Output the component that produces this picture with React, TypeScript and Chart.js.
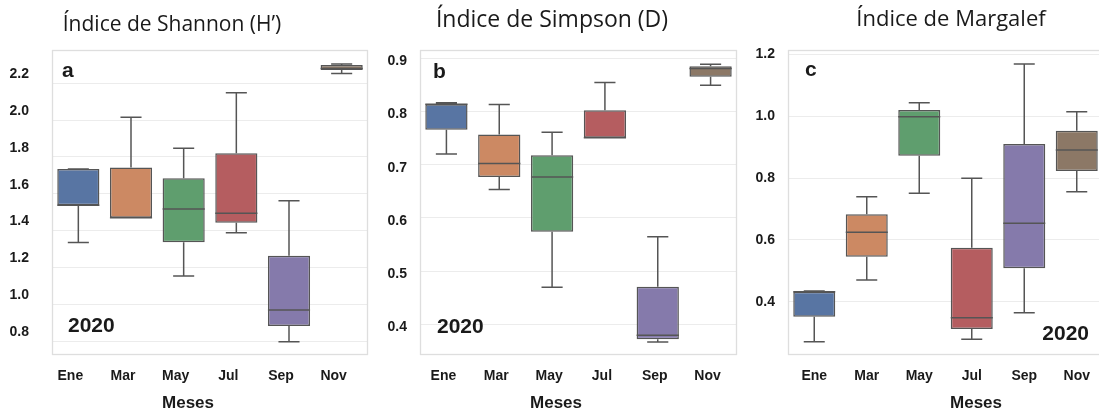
import React, { useEffect, useRef } from "react";
import { Chart, registerables } from "chart.js";

Chart.register(...registerables);

// Sampling months (x categories)
const months = ["Ene", "Mar", "May", "Jul", "Sep", "Nov"];
const boxColors = ["#5875a3", "#cc8963", "#5f9e6e", "#b55d60", "#857aab", "#8c7866"];

// Índice de Shannon (H')
const shannonMin = [1.335, 1.47, 1.153, 1.388, 0.796, 2.254];
const shannonQ1 = [1.537, 1.47, 1.336, 1.443, 0.881, 2.272];
const shannonMedian = [1.537, 1.47, 1.517, 1.494, 0.968, 2.281];
const shannonQ3 = [1.735, 1.743, 1.684, 1.82, 1.263, 2.299];
const shannonMax = [1.735, 2.015, 1.847, 2.149, 1.562, 2.305];
const shannonTicks = [0.8, 1.0, 1.2, 1.4, 1.6, 1.8, 2.0, 2.2];

// Índice de Simpson (D)
const simpsonMin = [0.7205, 0.6535, 0.4697, 0.7507, 0.3667, 0.8498];
const simpsonQ1 = [0.766, 0.677, 0.574, 0.7507, 0.3718, 0.8655];
const simpsonMedian = [0.814, 0.7024, 0.677, 0.7507, 0.379, 0.881];
const simpsonQ3 = [0.814, 0.757, 0.718, 0.8028, 0.4703, 0.8856];
const simpsonMax = [0.8166, 0.8135, 0.761, 0.855, 0.5644, 0.889];
const simpsonTicks = [0.4, 0.5, 0.6, 0.7, 0.8, 0.9];

// Índice de Margalef
const margalefMin = [0.2707, 0.47, 0.7505, 0.2784, 0.3645, 0.7556];
const margalefQ1 = [0.3515, 0.5455, 0.872, 0.3117, 0.508, 0.8225];
const margalefMedian = [0.4323, 0.6244, 0.998, 0.348, 0.6534, 0.8905];
const margalefQ3 = [0.4323, 0.6825, 1.0198, 0.5746, 0.91, 0.953];
const margalefMax = [0.4346, 0.7395, 1.0434, 0.799, 1.1685, 1.0143];
const margalefTicks = [0.4, 0.6, 0.8, 1.0, 1.2];

const yearLabel = "2020";
const axisTitle = "Meses";

const lineColor = "#555555";
const gridColor = "#ececec";
const frameColor = "#dedede";
const textColor = "#1a1a1a";
const boldFamily = "'Liberation Sans', Arial, sans-serif";
const headingFamily = "'Open Sans', 'Noto Sans', sans-serif";

type PanelSpec = {
  key: string;
  heading: string;
  headingSize: number;
  headingX: number;
  headingY: number;
  letter: string;
  letterX: number;
  letterY: number;
  yearX: number;
  yearY: number;
  yearAlign: CanvasTextAlign;
  axisTitleX: number;
  left: number;
  width: number;
  yWidth: number;
  padRight: number;
  yMin: number;
  yMax: number;
  yTicks: number[];
  yLabelOffset: number;
  yTickPad: number;
  xLabelOffset: number;
  min: number[];
  q1: number[];
  median: number[];
  q3: number[];
  max: number[];
};

const panels: PanelSpec[] = [
  {
    key: "shannon",
    heading: "Índice de Shannon (H’)",
    headingSize: 21,
    headingX: 172,
    headingY: 25,
    letter: "a",
    letterX: 62,
    letterY: 77,
    yearX: 68,
    yearY: 326,
    yearAlign: "left",
    axisTitleX: 188,
    left: 0,
    width: 372,
    yWidth: 52,
    padRight: 4,
    yMin: 0.724,
    yMax: 2.381,
    yTicks: shannonTicks,
    yLabelOffset: -9,
    yTickPad: 23,
    xLabelOffset: -8,
    min: shannonMin,
    q1: shannonQ1,
    median: shannonMedian,
    q3: shannonQ3,
    max: shannonMax,
  },
  {
    key: "simpson",
    heading: "Índice de Simpson (D)",
    headingSize: 23,
    headingX: 180,
    headingY: 20,
    letter: "b",
    letterX: 61,
    letterY: 78,
    yearX: 65,
    yearY: 327,
    yearAlign: "left",
    axisTitleX: 184,
    left: 372,
    width: 372,
    yWidth: 48,
    padRight: 7,
    yMin: 0.342,
    yMax: 0.916,
    yTicks: simpsonTicks,
    yLabelOffset: 3,
    yTickPad: 13,
    xLabelOffset: -3,
    min: simpsonMin,
    q1: simpsonQ1,
    median: simpsonMedian,
    q3: simpsonQ3,
    max: simpsonMax,
  },
  {
    key: "margalef",
    heading: "Índice de Margalef",
    headingSize: 22,
    headingX: 207,
    headingY: 20,
    letter: "c",
    letterX: 61,
    letterY: 76,
    yearX: 345,
    yearY: 334,
    yearAlign: "right",
    axisTitleX: 232,
    left: 744,
    width: 372,
    yWidth: 44,
    padRight: 13,
    yMin: 0.2277,
    yMax: 1.214,
    yTicks: margalefTicks,
    yLabelOffset: 0,
    yTickPad: 13,
    xLabelOffset: 0,
    min: margalefMin,
    q1: margalefQ1,
    median: margalefMedian,
    q3: margalefQ3,
    max: margalefMax,
  },
];

function BoxPanel({ spec }: { spec: PanelSpec }) {
  const ref = useRef<HTMLCanvasElement | null>(null);

  useEffect(() => {
    const canvas = ref.current;
    if (!canvas) return;

    // Frame around the plotting area, whiskers and medians on top of the boxes
    const boxParts = {
      id: "boxParts",
      beforeDatasetsDraw(chart: any) {
        const { ctx, chartArea: a } = chart;
        ctx.save();
        ctx.strokeStyle = frameColor;
        ctx.lineWidth = 1.3;
        ctx.strokeRect(
          Math.round(a.left) + 0.5,
          Math.round(a.top) + 0.5,
          Math.round(a.right - a.left) - 1,
          Math.round(a.bottom - a.top) - 1
        );
        ctx.restore();
      },
      afterDatasetsDraw(chart: any) {
        const { ctx } = chart;
        const y = chart.scales.y;
        const meta = chart.getDatasetMeta(0);
        ctx.save();
        ctx.strokeStyle = lineColor;
        ctx.lineWidth = 1.5;
        meta.data.forEach((el: any, i: number) => {
          const { x, width } = el.getProps(["x", "width"], true);
          const half = width / 2;
          const cap = width / 4;
          const yMin = y.getPixelForValue(spec.min[i]);
          const yQ1 = y.getPixelForValue(spec.q1[i]);
          const yMed = y.getPixelForValue(spec.median[i]);
          const yQ3 = y.getPixelForValue(spec.q3[i]);
          const yMax = y.getPixelForValue(spec.max[i]);
          ctx.beginPath();
          ctx.moveTo(x, yQ3);
          ctx.lineTo(x, yMax);
          ctx.moveTo(x - cap, yMax);
          ctx.lineTo(x + cap, yMax);
          ctx.moveTo(x, yQ1);
          ctx.lineTo(x, yMin);
          ctx.moveTo(x - cap, yMin);
          ctx.lineTo(x + cap, yMin);
          ctx.moveTo(x - half, yMed);
          ctx.lineTo(x + half, yMed);
          ctx.stroke();
        });
        ctx.restore();
      },
      afterDraw(chart: any) {
        const { ctx } = chart;
        ctx.save();
        ctx.fillStyle = textColor;
        // panel heading
        ctx.font = `400 ${spec.headingSize}px ${headingFamily}`;
        ctx.textAlign = "center";
        ctx.textBaseline = "middle";
        ctx.fillText(spec.heading, spec.headingX, spec.headingY);
        // panel letter
        ctx.font = `700 21px ${boldFamily}`;
        ctx.textAlign = "left";
        ctx.textBaseline = "alphabetic";
        ctx.fillText(spec.letter, spec.letterX, spec.letterY);
        // year tag
        ctx.font = `700 21px ${boldFamily}`;
        ctx.textAlign = spec.yearAlign;
        ctx.textBaseline = "middle";
        ctx.fillText(yearLabel, spec.yearX, spec.yearY);
        // x axis title
        ctx.font = `700 17px ${boldFamily}`;
        ctx.textAlign = "center";
        ctx.fillText(axisTitle, spec.axisTitleX, 403);
        ctx.restore();
      },
    };

    const chart = new Chart(canvas, {
      type: "bar",
      data: {
        labels: months,
        datasets: [
          {
            data: months.map((_, i) => [spec.q1[i], spec.q3[i]]),
            backgroundColor: boxColors,
            borderColor: lineColor,
            borderWidth: 1.5,
            borderSkipped: false,
            categoryPercentage: 0.8,
            barPercentage: 1,
          } as any,
        ],
      },
      options: {
        responsive: false,
        animation: false,
        events: [],
        layout: { padding: { top: 50, right: spec.padRight, left: 0, bottom: 0 } },
        plugins: {
          legend: { display: false },
          tooltip: { enabled: false },
          title: { display: false },
        },
        scales: {
          x: {
            grid: { display: false, drawTicks: false },
            border: { display: false },
            ticks: {
              color: textColor,
              font: { family: boldFamily, size: 14, weight: "bold" },
              padding: 13,
              labelOffset: spec.xLabelOffset,
            },
            afterFit: (s: any) => {
              s.height = 57;
            },
          },
          y: {
            min: spec.yMin,
            max: spec.yMax,
            grid: { color: gridColor, lineWidth: 1, drawTicks: false },
            border: { display: false },
            ticks: {
              color: textColor,
              font: { family: boldFamily, size: 14, weight: "bold" },
              padding: spec.yTickPad,
              labelOffset: spec.yLabelOffset,
              callback: (v: any) => Number(v).toFixed(1),
            },
            afterBuildTicks: (s: any) => {
              s.ticks = spec.yTicks.map((v) => ({ value: v }));
            },
            afterFit: (s: any) => {
              s.width = spec.yWidth;
            },
          },
        },
      } as any,
      plugins: [boxParts],
    });

    return () => chart.destroy();
  }, [spec]);

  return (
    <canvas
      ref={ref}
      width={spec.width}
      height={412}
      style={{ position: "absolute", left: spec.left, top: 0, display: "block" }}
    />
  );
}

export default function App() {
  return (
    <div
      style={{
        position: "fixed",
        left: 0,
        top: 0,
        width: 1099,
        height: 412,
        overflow: "hidden",
        background: "#ffffff",
      }}
    >
      {panels.map((p) => (
        <BoxPanel key={p.key} spec={p} />
      ))}
    </div>
  );
}
